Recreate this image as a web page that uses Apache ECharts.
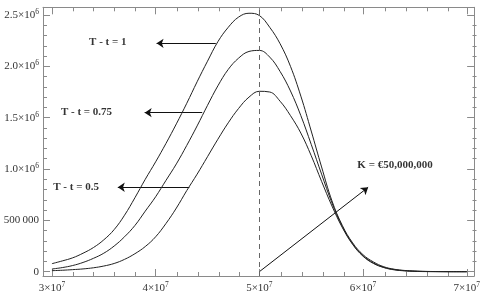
<!DOCTYPE html>
<html>
<head>
<meta charset="utf-8">
<script src="https://cdn.jsdelivr.net/npm/echarts@6/dist/echarts.min.js"></script>
<style>
  html, body { margin: 0; padding: 0; background: #fff; }
  #chart { width: 483px; height: 306px; }
</style>
</head>
<body>
<div id="chart"></div>
<script>
// 标的价格 (百万)
const stockPrices = [30, 31, 32, 33, 34, 35, 36, 37, 38, 39, 40, 41, 42, 43, 44, 45, 46, 47, 48, 49, 50,
  51, 52, 53, 54, 55, 56, 57, 58, 59, 60, 61, 62, 63, 64, 65, 66, 67, 68, 69, 70]

// 三条曲线 (百万)
const valuesT1 = [0.078, 0.105, 0.135, 0.18, 0.235, 0.31, 0.41, 0.55, 0.72, 0.90, 1.07, 1.25, 1.44, 1.64, 1.85, 2.05, 2.24, 2.38, 2.48, 2.517, 2.495,
  2.38, 2.22, 2.00, 1.71, 1.37, 1.02, 0.69, 0.45, 0.28, 0.165, 0.095, 0.048, 0.024, 0.012, 0.006, 0.003, 0.0015, 0.0007, 0.0003, 0.0001]
const valuesT075 = [0.026, 0.04, 0.06, 0.09, 0.13, 0.18, 0.25, 0.34, 0.45, 0.59, 0.73, 0.89, 1.05, 1.23, 1.42, 1.62, 1.81, 1.97, 2.08, 2.145, 2.155,
  2.09, 1.95, 1.76, 1.52, 1.24, 0.95, 0.67, 0.44, 0.27, 0.155, 0.085, 0.043, 0.021, 0.01, 0.005, 0.002, 0.001, 0.0004, 0.0002, 0.0001]
const valuesT05 = [0.01, 0.014, 0.02, 0.027, 0.038, 0.055, 0.08, 0.12, 0.175, 0.245, 0.34, 0.47, 0.62, 0.79, 0.95, 1.12, 1.29, 1.45, 1.59, 1.70, 1.757,
  1.75, 1.66, 1.52, 1.35, 1.13, 0.88, 0.64, 0.43, 0.265, 0.15, 0.08, 0.04, 0.018, 0.008, 0.003, 0.001, 0.0005, 0.0002, 0.0001, 0]

// 刻度
const xMajorTicks = [3e7, 4e7, 5e7, 6e7, 7e7]
const xTickLabels = ['3', '4', '5', '6', '7']
const xMinorTicks = [3.2e7, 3.4e7, 3.6e7, 3.8e7, 4.2e7, 4.4e7, 4.6e7, 4.8e7, 5.2e7, 5.4e7, 5.6e7, 5.8e7, 6.2e7, 6.4e7, 6.6e7, 6.8e7]
const yMajorTicks = [0, 5e5, 1e6, 1.5e6, 2e6, 2.5e6]
const yTickLabels = ['0', '500\u2009000', '1.0', '1.5', '2.0', '2.5']
const yMinorTicks = [1e5, 2e5, 3e5, 4e5, 6e5, 7e5, 8e5, 9e5, 1.1e6, 1.2e6, 1.3e6, 1.4e6, 1.6e6, 1.7e6, 1.8e6, 1.9e6,
  2.1e6, 2.2e6, 2.3e6, 2.4e6]

// 执行价
const strike = 5e7

// 标注文字与箭头 (数据坐标)
const noteTexts = ['T - t = 1', 'T - t = 0.75', 'T - t = 0.5', 'K = €50,000,000']
const notePositions = [[3.539e7, 2.237e6], [3.333e7, 1.555e6], [3.233e7, 0.825e6], [6.308e7, 1.039e6]]
const arrowLines = [
  [[4.58e7, 2.224e6], [4.009e7, 2.224e6]],
  [[4.449e7, 1.549e6], [3.894e7, 1.549e6]],
  [[4.325e7, 0.822e6], [3.635e7, 0.822e6]],
  [[5.0e7, 0], [6.049e7, 0.822e6]]
]

const xMin = 2.9138e7
const xMax = 7.0709e7
const yMin = -42000
const yMax = 2575000

const font = "'Liberation Serif', 'Times New Roman', serif"
const frameColor = '#8a8a8a'
const labelColor = '#333'

const rich = {
  b: { fontSize: 11, fontFamily: font, color: labelColor, lineHeight: 14 },
  s: { fontSize: 7.5, fontFamily: font, color: labelColor, lineHeight: 6, verticalAlign: 'top' }
}

const toPoints = (vals) => stockPrices.map((s, i) => [s * 1e6, vals[i] * 1e6])

const makeX = (grid, pos, ticks, len, showLine, labels) => ({
  type: 'value',
  gridIndex: grid,
  position: pos,
  min: xMin,
  max: xMax,
  axisLine: { show: showLine, onZero: false, lineStyle: { color: frameColor, width: 1 } },
  axisTick: { show: true, inside: true, length: len, customValues: ticks, lineStyle: { color: frameColor } },
  axisLabel: labels ? {
    show: true,
    customValues: ticks,
    margin: 5,
    formatter: (v) => '{b|' + xTickLabels[xMajorTicks.indexOf(v)] + '×10}{s|7}',
    rich
  } : { show: false },
  splitLine: { show: false }
})

const makeY = (grid, pos, ticks, len, showLine, labels) => ({
  type: 'value',
  gridIndex: grid,
  position: pos,
  min: yMin,
  max: yMax,
  axisLine: { show: showLine, onZero: false, lineStyle: { color: frameColor, width: 1 } },
  axisTick: { show: true, inside: true, length: len, customValues: ticks, lineStyle: { color: frameColor } },
  axisLabel: labels ? {
    show: true,
    customValues: ticks,
    margin: 4,
    formatter: (v) => {
      const i = yMajorTicks.indexOf(v)
      if (i < 2) return '{b|' + yTickLabels[i] + '}'
      return '{b|' + yTickLabels[i] + '×10}{s|6}'
    },
    rich
  } : { show: false },
  splitLine: { show: false }
})

const gridRect = { left: 43, right: 6.5, top: 7.3, bottom: 30 }

const curveStyle = { color: '#222', width: 1 }

const option = {
  animation: false,
  backgroundColor: '#fff',
  grid: [gridRect, gridRect],
  xAxis: [
    makeX(0, 'bottom', xMajorTicks, 7, true, true),
    makeX(0, 'top', xMajorTicks, 7, true, false),
    makeX(1, 'bottom', xMinorTicks, 4, false, false),
    makeX(1, 'top', xMinorTicks, 4, false, false)
  ],
  yAxis: [
    makeY(0, 'left', yMajorTicks, 7, true, true),
    makeY(0, 'right', yMajorTicks, 7, true, false),
    makeY(1, 'left', yMinorTicks, 4, false, false),
    makeY(1, 'right', yMinorTicks, 4, false, false)
  ],
  series: [
    {
      name: 'T - t = 1',
      type: 'line',
      xAxisIndex: 0,
      yAxisIndex: 0,
      data: toPoints(valuesT1),
      showSymbol: false,
      smooth: 0.4,
      lineStyle: curveStyle,
      markLine: {
        silent: true,
        symbol: 'none',
        label: { show: false },
        lineStyle: { color: '#666', width: 1, type: [5, 4] },
        data: [{ xAxis: strike }]
      }
    },
    {
      name: 'T - t = 0.75',
      type: 'line',
      xAxisIndex: 0,
      yAxisIndex: 0,
      data: toPoints(valuesT075),
      showSymbol: false,
      smooth: 0.4,
      lineStyle: curveStyle
    },
    {
      name: 'T - t = 0.5',
      type: 'line',
      xAxisIndex: 0,
      yAxisIndex: 0,
      data: toPoints(valuesT05),
      showSymbol: false,
      smooth: 0.4,
      lineStyle: curveStyle
    },
    // 箭头
    {
      type: 'lines',
      coordinateSystem: 'cartesian2d',
      xAxisIndex: 0,
      yAxisIndex: 0,
      symbol: ['none', 'arrow'],
      symbolSize: 7,
      lineStyle: { color: '#111', width: 1, opacity: 1, curveness: 0 },
      data: arrowLines.map((c) => ({ coords: c }))
    },
    // 标注文字
    {
      type: 'scatter',
      xAxisIndex: 0,
      yAxisIndex: 0,
      symbolSize: 1,
      itemStyle: { color: 'rgba(0,0,0,0)' },
      label: {
        show: true,
        position: 'inside',
        fontFamily: font,
        fontWeight: 'bold',
        fontSize: 11,
        color: '#000',
        formatter: (p) => p.data[2]
      },
      data: notePositions.map((p, i) => [p[0], p[1], noteTexts[i]])
    }
  ]
}

const chart = echarts.init(document.getElementById('chart'))
chart.setOption(option)
</script>
</body>
</html>
